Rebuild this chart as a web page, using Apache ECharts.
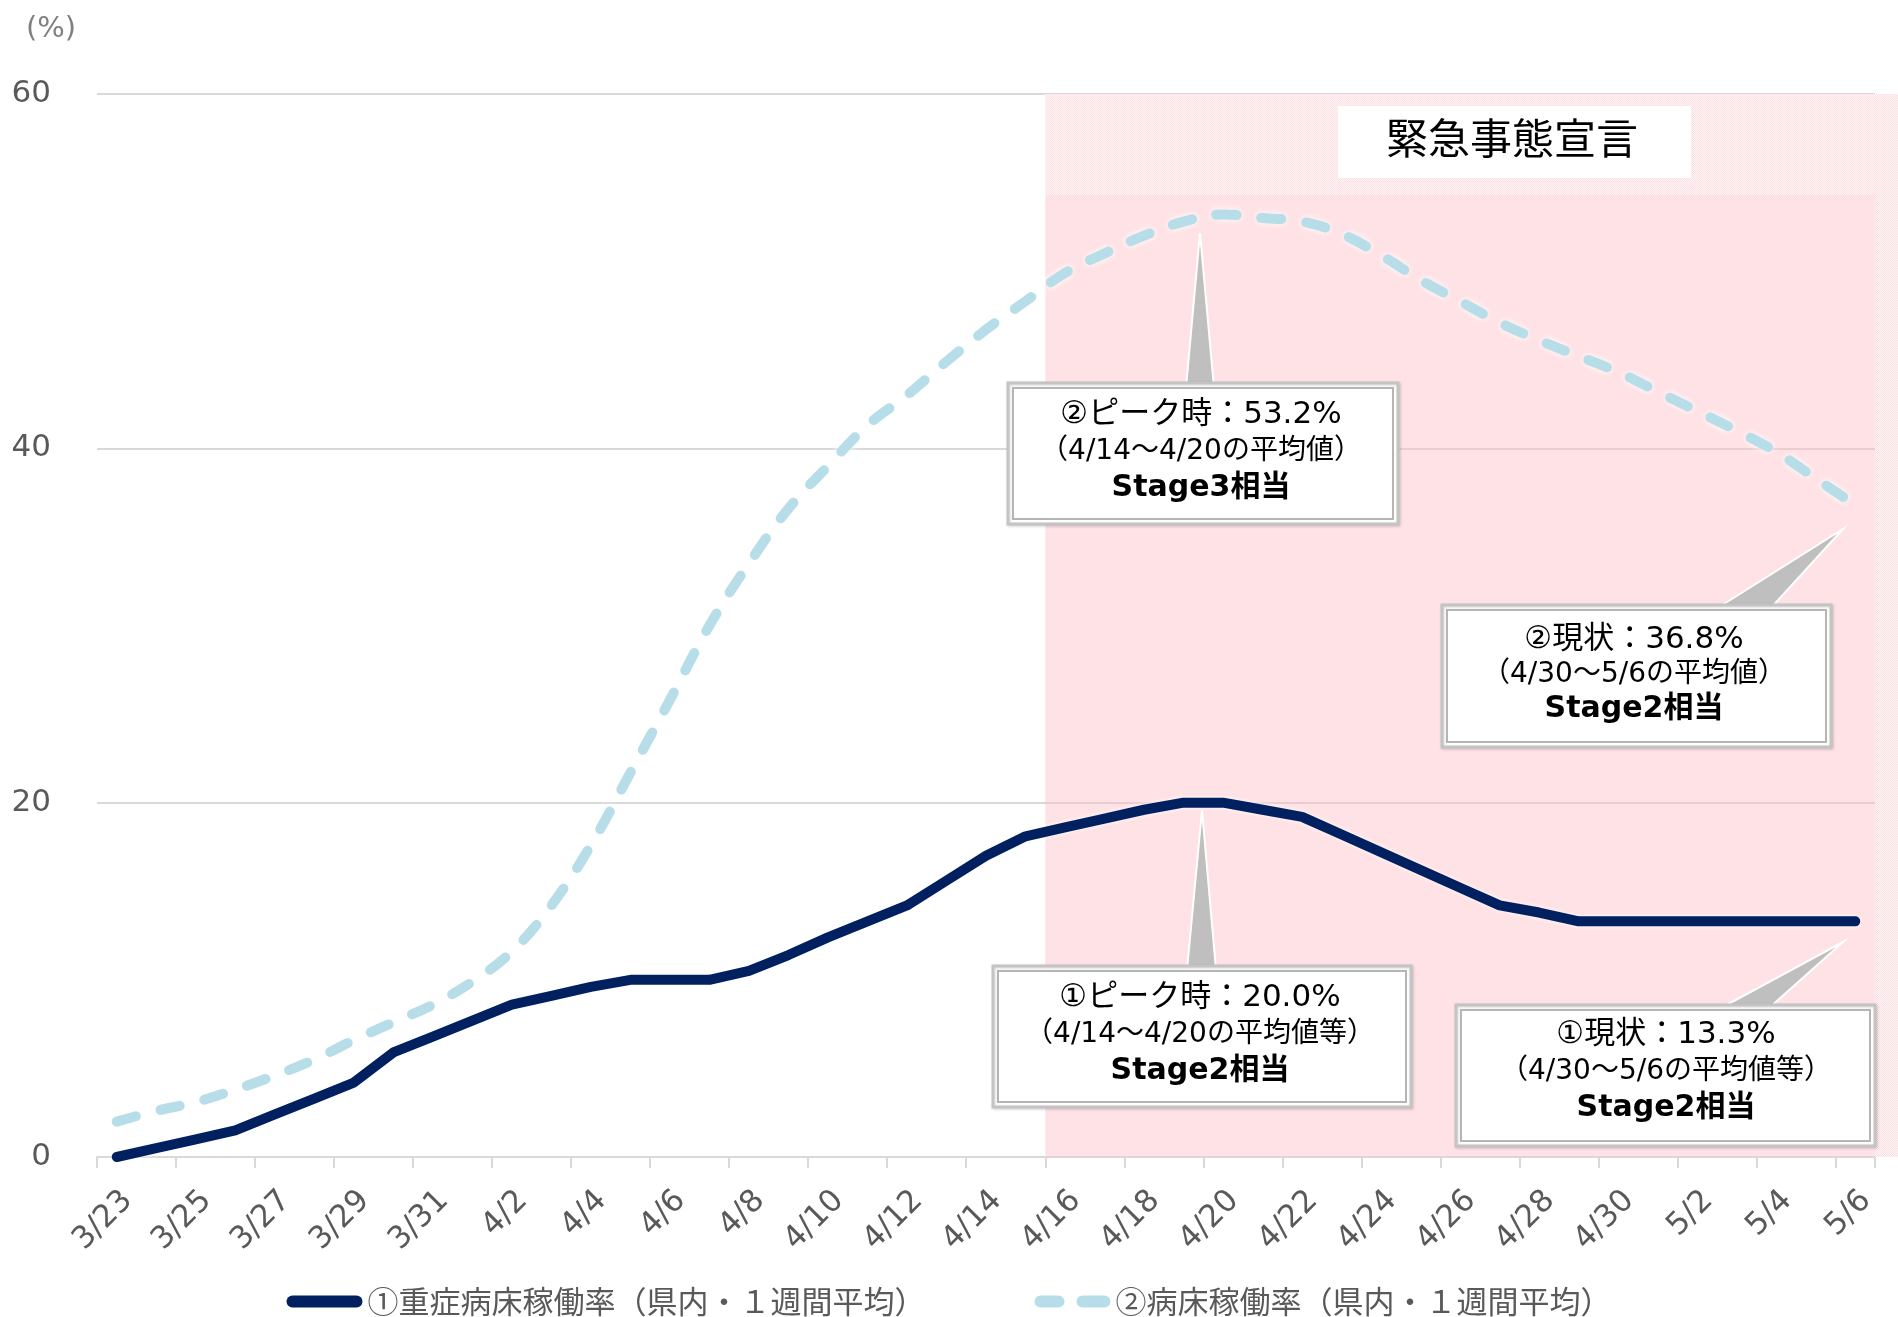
<!DOCTYPE html>
<html>
<head>
<meta charset="utf-8">
<script src="https://cdn.jsdelivr.net/npm/echarts@6/dist/echarts.min.js"></script>
<style>
html,body{margin:0;padding:0;background:#fff;}
#c{width:1898px;height:1317px;}
</style>
</head>
<body>
<div id="c"></div>
<script>
// ---------------- DATA ----------------
const categories = ['3/23','3/24','3/25','3/26','3/27','3/28','3/29','3/30','3/31',
  '4/1','4/2','4/3','4/4','4/5','4/6','4/7','4/8','4/9','4/10','4/11','4/12','4/13','4/14','4/15',
  '4/16','4/17','4/18','4/19','4/20','4/21','4/22','4/23','4/24','4/25','4/26','4/27','4/28','4/29','4/30',
  '5/1','5/2','5/3','5/4','5/5','5/6'];

// ① 重症病床稼働率（県内・1週間平均）
const severeRate = [0.0,0.5,1.0,1.5,2.4,3.3,4.2,5.9,6.8,7.7,
  8.6,9.1,9.6,10.0,10.0,10.0,10.5,11.4,12.4,13.3,
  14.2,15.6,17.0,18.1,18.6,19.1,19.6,20.0,20.0,19.6,
  19.2,18.2,17.2,16.2,15.2,14.2,13.8,13.3,13.3,13.3,
  13.3,13.3,13.3,13.3,13.3];

// ② 病床稼働率（県内・1週間平均）
const bedRate = [2.0,2.6,3.1,3.8,4.6,5.5,6.6,7.6,8.6,9.9,
  11.6,14.2,17.6,21.7,25.8,30.0,33.5,36.6,39.0,41.3,
  43.0,44.9,46.7,48.3,49.9,51.0,52.0,52.8,53.2,53.0,
  52.8,52.1,50.9,49.5,48.3,47.1,46.1,45.2,44.3,43.2,
  42.1,41.0,39.8,38.3,36.8];

const seriesNames = ['①重症病床稼働率（県内・１週間平均）', '②病床稼働率（県内・１週間平均）'];
const yMin = 0, yMax = 60, yInterval = 20;
const yUnit = '(%)';
const emergencyStart = '4/16';
const emergencyLabel = '緊急事態宣言';

const callouts = [
  { lines: ['②ピーク時：53.2%', '（4/14～4/20の平均値）', 'Stage3相当'] },
  { lines: ['②現状：36.8%', '（4/30～5/6の平均値）', 'Stage2相当'] },
  { lines: ['①ピーク時：20.0%', '（4/14～4/20の平均値等）', 'Stage2相当'] },
  { lines: ['①現状：13.3%', '（4/30～5/6の平均値等）', 'Stage2相当'] }
];

// ---------------- LAYOUT (pixels, decoration only) ----------------
const GRID = { left: 97, right: 23, top: 94, bottom: 160 };
const W = 1898, H = 1317;
const calloutLayout = [
  { box: [1008, 383, 390, 141], tip: [[1200, 233], [1186, 388], [1214, 388]], cx: 1201, ly: [415, 452, 488] },
  { box: [1442, 605, 389, 142], tip: [[1843, 529], [1716, 609], [1770, 609]], cx: 1634, ly: [640, 675, 709] },
  { box: [993, 966, 418, 141], tip: [[1202, 810], [1187, 970], [1216, 970]], cx: 1200, ly: [998, 1035, 1071] },
  { box: [1456, 1005, 419, 141], tip: [[1843, 942], [1719, 1009], [1768, 1009]], cx: 1666, ly: [1035, 1072, 1108] }
];
const bandTopValue = 54.3; // lower edge of patterned band at the top of the pink shape

function makePattern() {
  const cv = document.createElement('canvas');
  cv.width = 4; cv.height = 4;
  const ctx = cv.getContext('2d');
  ctx.fillStyle = '#fff6f7';
  ctx.fillRect(0, 0, 4, 4);
  ctx.fillStyle = '#fcdde0';
  for (let i = 0; i < 4; i++) for (let j = 0; j < 4; j++) if ((i + j) % 2 === 0) ctx.fillRect(i, j, 1, 1);
  return cv;
}
const pattern = { image: makePattern(), repeat: 'repeat' };

const latinCJK = '"DejaVu Sans", "Noto Sans CJK JP", sans-serif';

function buildCallout(c, L) {
  const [x, y, w, h] = L.box;
  const els = [];
  els.push({ type: 'polygon', z: 99, silent: true, shape: { points: L.tip },
    style: { fill: '#bfbfbf', stroke: '#ffffff', lineWidth: 2 } });
  els.push({ type: 'rect', z: 100, silent: true, shape: { x: x, y: y, width: w, height: h },
    style: { fill: '#ffffff', stroke: '#c4c4c4', lineWidth: 3, shadowBlur: 3, shadowColor: 'rgba(0,0,0,0.15)', shadowOffsetX: 1, shadowOffsetY: 1 } });
  els.push({ type: 'rect', z: 101, silent: true, shape: { x: x + 5, y: y + 5, width: w - 10, height: h - 10 },
    style: { fill: 'none', stroke: '#b5b5b5', lineWidth: 2 } });
  const fonts = ['31px ' + latinCJK, '28px ' + latinCJK, 'bold 30px ' + latinCJK];
  c.lines.forEach((t, i) => {
    els.push({ type: 'text', z: 102, silent: true, x: L.cx, y: L.ly[i],
      style: { text: t, font: fonts[i], fill: '#000000', align: 'center', verticalAlign: 'middle' } });
  });
  return els;
}

const chart = echarts.init(document.getElementById('c'), null, { renderer: 'canvas', width: W, height: H });

const startIdx = categories.indexOf(emergencyStart);
const gridRight = W - GRID.right;
const gridBottom = H - GRID.bottom;

const graphicEls = [];
graphicEls.push({ type: 'rect', z: 1, silent: true,
  shape: { x: gridRight, y: GRID.top, width: GRID.right, height: gridBottom - GRID.top },
  style: { fill: pattern } });
graphicEls.push({ type: 'rect', z: 50, silent: true, shape: { x: 1338, y: 106, width: 353, height: 72 },
  style: { fill: '#ffffff' } });
graphicEls.push({ type: 'text', z: 51, silent: true, x: 1512, y: 138,
  style: { text: emergencyLabel, font: '42px "Noto Sans CJK JP", sans-serif', fill: '#000000', align: 'center', verticalAlign: 'middle' } });
graphicEls.push({ type: 'text', z: 51, silent: true, x: 51, y: 29,
  style: { text: yUnit, font: '29px "DejaVu Sans", sans-serif', fill: '#808080', align: 'center', verticalAlign: 'middle' } });
callouts.forEach((c, i) => { buildCallout(c, calloutLayout[i]).forEach(e => graphicEls.push(e)); });

const solidIcon = 'path://M6,0 H70 A6,6 0 0 1 70,12 H6 A6,6 0 0 1 6,0 Z';
const dashIcon = 'path://M6,0 H24 A6,6 0 0 1 24,12 H6 A6,6 0 0 1 6,0 Z M48,0 H70 A6,6 0 0 1 70,12 H48 A6,6 0 0 1 48,0 Z';

const option = {
  animation: false,
  backgroundColor: '#ffffff',
  textStyle: { fontFamily: latinCJK },
  grid: { left: GRID.left, right: GRID.right, top: GRID.top, bottom: GRID.bottom, containLabel: false, outerBoundsMode: 'none' },
  legend: {
    data: [{ name: seriesNames[0], icon: solidIcon }, { name: seriesNames[1], icon: dashIcon }],
    left: 'center',
    top: 1281,
    itemWidth: 76,
    itemHeight: 12,
    itemGap: 109,
    itemStyle: { borderWidth: 0 },
    textStyle: { fontSize: 31, color: '#595959', fontFamily: '"Noto Sans CJK JP", sans-serif' }
  },
  xAxis: [
    {
      type: 'category',
      data: categories,
      boundaryGap: true,
      axisLine: { show: true, lineStyle: { color: '#d9d9d9', width: 2 } },
      axisTick: { show: true, interval: 1, length: 11, lineStyle: { color: '#d9d9d9', width: 2 } },
      axisLabel: { interval: 1, rotate: 45, margin: 28, verticalAlign: 'top', fontSize: 31, color: '#595959', fontFamily: '"DejaVu Sans", sans-serif' },
      splitLine: { show: false }
    },
    { type: 'value', min: 0, max: categories.length, show: false }
  ],
  yAxis: {
    type: 'value',
    min: yMin, max: yMax, interval: yInterval,
    axisLine: { show: false },
    axisTick: { show: false },
    axisLabel: { margin: 46, fontSize: 31, color: '#595959', fontFamily: '"DejaVu Sans", sans-serif' },
    splitLine: { show: true, lineStyle: { color: '#d9d9d9', width: 2 } }
  },
  series: [
    {
      name: '_emergency', type: 'line', xAxisIndex: 1, yAxisIndex: 0, data: [], silent: true, z: 1,
      markArea: {
        silent: true,
        data: [
          [{ xAxis: startIdx, yAxis: yMin, itemStyle: { color: 'rgba(253,190,197,0.45)' } }, { xAxis: categories.length, yAxis: bandTopValue }],
          [{ xAxis: startIdx, yAxis: bandTopValue, itemStyle: { color: pattern } }, { xAxis: categories.length, yAxis: yMax }]
        ]
      }
    },
    {
      name: seriesNames[0], type: 'line', data: severeRate, symbol: 'none', z: 3,
      itemStyle: { color: '#002060' },
      lineStyle: { color: '#002060', width: 10, cap: 'round', join: 'round', shadowColor: 'rgba(255,255,255,0.9)', shadowBlur: 5 }
    },
    {
      name: seriesNames[1], type: 'line', data: bedRate, symbol: 'none', z: 3, smooth: 0.4,
      itemStyle: { color: '#b7dee8' },
      lineStyle: { color: '#b7dee8', width: 10, type: [20, 25], cap: 'round', join: 'round', shadowColor: 'rgba(255,255,255,1)', shadowBlur: 7 }
    }
  ],
  graphic: { elements: graphicEls }
};
chart.setOption(option);
</script>
</body>
</html>
